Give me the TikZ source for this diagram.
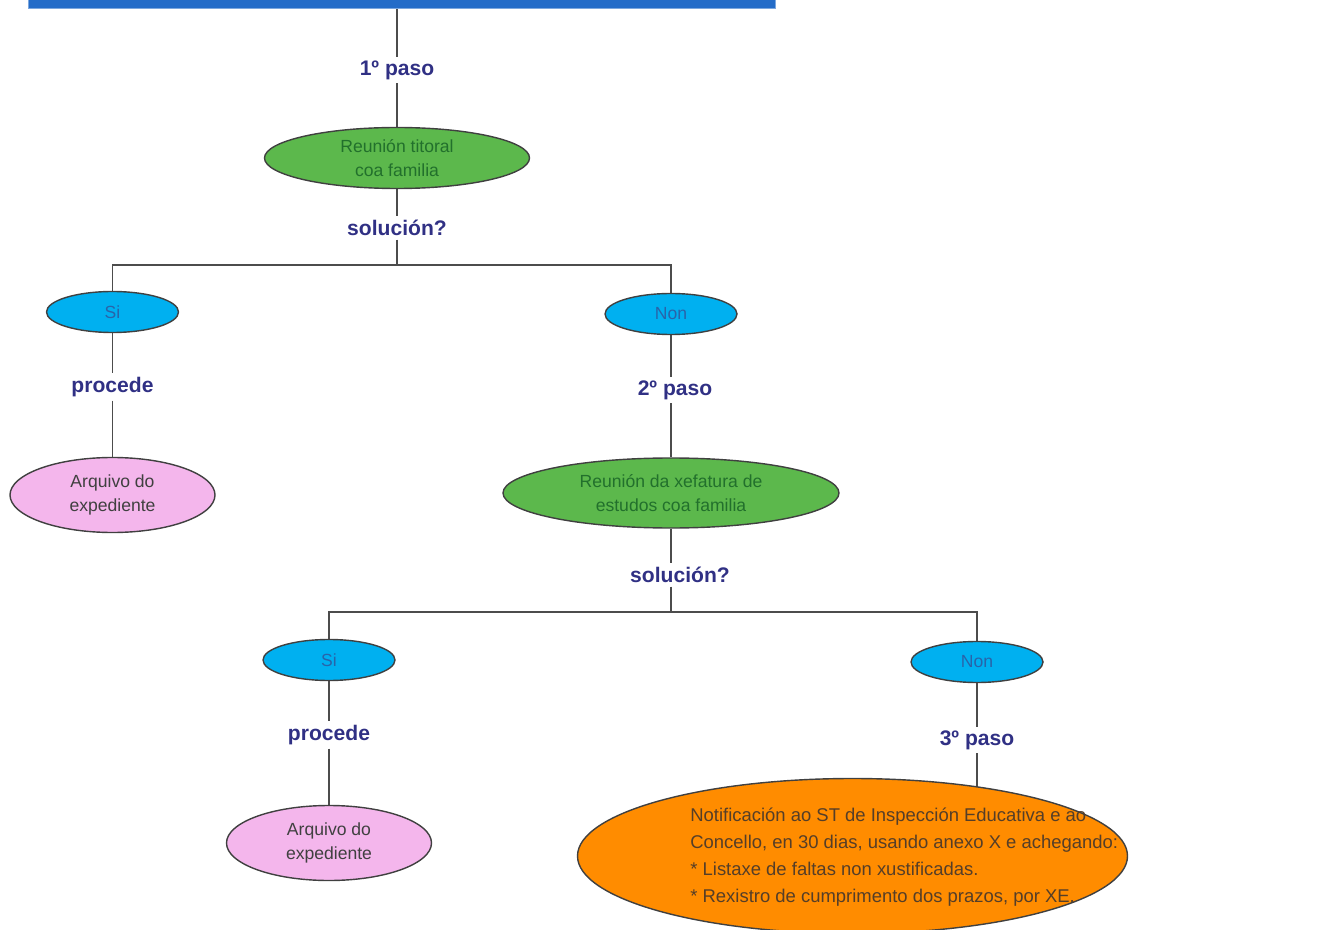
\documentclass[tikz,border=0pt]{standalone}
\usepackage{fontspec}
\setmainfont{Liberation Sans}
\usepackage{tikz}
\usetikzlibrary{shapes.geometric, positioning, backgrounds}
\definecolor{flowBlue}{RGB}{36,108,200}
\definecolor{flowGreen}{RGB}{92,184,76}
\definecolor{greenText}{RGB}{34,112,44}
\definecolor{flowCyan}{RGB}{0,176,240}
\definecolor{cyanText}{RGB}{40,100,170}
\definecolor{flowPink}{RGB}{244,182,236}
\definecolor{flowOrange}{RGB}{255,140,0}
\definecolor{orangeText}{RGB}{85,62,40}
\definecolor{labelNavy}{RGB}{48,48,132}
\tikzset{
    meetbox/.style={ellipse, draw=black!75, thick, fill=flowGreen, text=greenText,
        align=center, inner sep=0pt, font=\fontsize{10}{14}\selectfont},
    answerbox/.style={ellipse, draw=black!75, thick, fill=flowCyan, text=cyanText,
        minimum width=2.64cm, minimum height=0.82cm, inner sep=0pt, font=\fontsize{10}{12}\selectfont},
    archivebox/.style={ellipse, draw=black!75, thick, fill=flowPink, text=black!75,
        minimum width=4.1cm, minimum height=1.5cm, align=center, inner sep=0pt,
        font=\fontsize{10}{14}\selectfont},
    notifybox/.style={ellipse, draw=black!75, thick, fill=flowOrange,
        minimum width=11cm, minimum height=3.1cm, inner sep=0pt},
    notifytext/.style={text=orangeText, align=left, inner sep=0pt,
        font=\fontsize{10.5}{15.4}\selectfont},
    steplabel/.style={text=labelNavy, font=\fontsize{12}{14}\selectfont\bfseries, inner sep=2pt},
    link/.style={draw=black!70, line width=0.8pt},
}
\begin{document}
\begin{tikzpicture}
    \useasboundingbox (0,0) rectangle (26.36,-18.6);
    \clip (0,0) rectangle (26.36,-18.6);
    % first meeting with the family
    \node[fill=flowBlue, draw=flowBlue!60, minimum width=14.94cm, minimum height=1cm] (topbox) at (8.03,0.34) {};
    \node[steplabel] (paso1) at (7.94,-1.40) {1º paso};
    \node[meetbox, minimum width=5.3cm, minimum height=1.22cm] (reun1) at (7.94,-3.16) {Reunión titoral\\coa familia};
    \node[steplabel] (sol1) at (7.94,-4.56) {solución?};
    \coordinate (j1) at (7.94,-5.30);

    \node[answerbox] (si1) at (2.25,-6.24) {Si};
    \node[steplabel] (proc1) at (2.25,-7.74) {procede};
    \node[archivebox] (arq1) at (2.25,-9.90) {Arquivo do\\expediente};

    \node[answerbox] (non1) at (13.42,-6.28) {Non};
    \node[steplabel] (paso2) at (13.5,-7.80) {2º paso};
    \node[meetbox, minimum width=6.72cm, minimum height=1.4cm] (reun2) at (13.42,-9.86) {Reunión da xefatura de\\estudos coa familia};
    \node[steplabel] (sol2) at (13.6,-11.50) {solución?};
    \coordinate (j2) at (13.42,-12.24);

    \node[answerbox] (si2) at (6.58,-13.20) {Si};
    \node[steplabel] (proc2) at (6.58,-14.70) {procede};
    \node[archivebox] (arq2) at (6.58,-16.86) {Arquivo do\\expediente};

    \node[answerbox] (non2) at (19.54,-13.24) {Non};
    \node[steplabel] (paso3) at (19.54,-14.80) {3º paso};
    \node[notifybox] (notif) at (17.05,-17.12) {};
    \node[notifytext, anchor=west] (notiftxt) at (13.8,-17.14) {Notificación ao ST de Inspección Educativa e ao\\Concello, en 30 dias, usando anexo X e achegando:\\* Listaxe de faltas non xustificadas.\\* Rexistro de cumprimento dos prazos, por XE.};

    \begin{scope}[on background layer]
        \draw[link] (topbox.south -| paso1) -- (paso1);
        \draw[link] (paso1) -- (reun1);
        \draw[link] (reun1) -- (sol1);
        \draw[link] (sol1) -- (j1);
        \draw[link] (si1.north) |- (j1) -| (non1.north);
        \draw[link] (si1) -- (proc1);
        \draw[link] (proc1) -- (arq1);
        \draw[link] (non1) -- (non1 |- paso2.north);
        \draw[link] (non1 |- paso2.south) -- (reun2);
        \draw[link] (reun2) -- (reun2 |- sol2.north);
        \draw[link] (reun2 |- sol2.south) -- (j2);
        \draw[link] (si2.north) |- (j2) -| (non2.north);
        \draw[link] (si2) -- (proc2);
        \draw[link] (proc2) -- (arq2);
        \draw[link] (non2) -- (paso3);
        \draw[link] (paso3) -- (paso3 |- notif.center);
    \end{scope}
\end{tikzpicture}
\end{document}
